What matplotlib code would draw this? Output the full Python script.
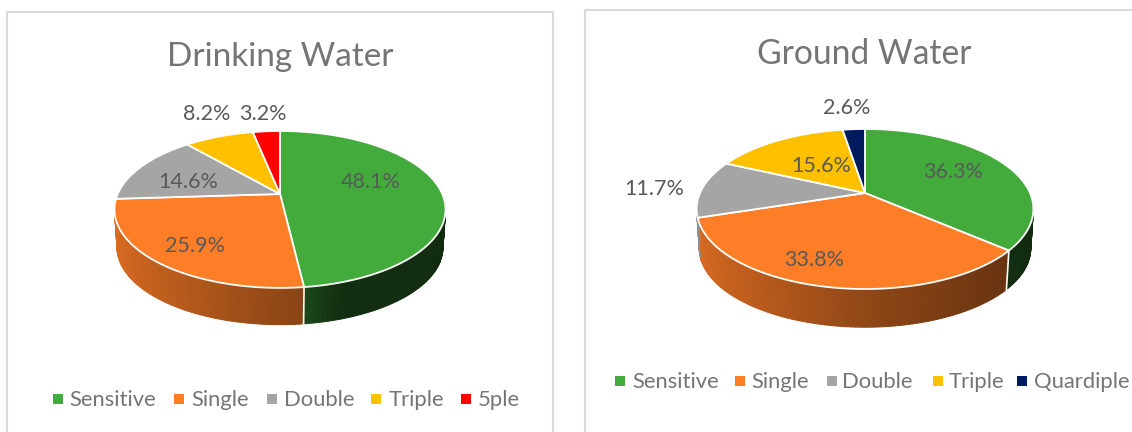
import numpy as np
import matplotlib
matplotlib.use('Agg')
import matplotlib.pyplot as plt
from matplotlib.colors import to_rgb

# Values
drinking_labels = ['Sensitive', 'Single', 'Double', 'Triple', '5ple']
drinking_values = [48.1, 25.9, 14.6, 8.2, 3.2]
ground_labels = ['Sensitive', 'Single', 'Double', 'Triple', 'Quardiple']
ground_values = [36.3, 33.8, 11.7, 15.6, 2.6]

drinking_colors = ['#43AB3C', '#FE7D27', '#A5A5A5', '#FFC000', '#FF0000']
ground_colors = ['#43AB3C', '#FE7D27', '#A5A5A5', '#FFC000', '#001A5E']

# Screen layout, in pixels of the output picture
drinking_text_xy = [(371, 182.5), (195, 245.5), (188, 182.5), (207, 113.5), (263, 113.5)]
ground_text_xy = [(953, 172.5), (814, 260), (654, 189), (821, 166), (847, 108.5)]
drinking_legend_x = [(57.5, 69), (179, 191), (272, 284), (376, 389), (466, 478)]
ground_legend_x = [(620, 632), (740, 751), (832, 842), (938, 949), (1022, 1034)]

TEXT_GREY = '#595959'
SOFT_GREY = '#757575'
FRAME_GREY = '#DADADA'

plt.rcParams['font.family'] = ['Lato', 'DejaVu Sans']


def project(theta, geom, radius=1.0, drop=0.0):
    # theta runs clockwise from 12 o'clock; a small perspective squeezes the far side
    u = radius * np.sin(theta)
    v = radius * np.cos(theta)
    s = 1.0 / (1.0 + geom['k'] * v)
    x = geom['cx'] + geom['rx'] * u * s
    y = geom['cy'] - geom['ry'] * v * s + drop
    return x, y


def wall_shade(i, u):
    if i == 0:
        return np.interp(u, [0.1, 0.3, 1.0], [0.44, 0.27, 0.25])
    return np.interp(u, [-1.0, 0.1, 0.8], [0.86, 0.54, 0.40])


def draw_pie(ax, values, colors, geom):
    fractions = np.array(values) / 100.0
    edges = np.concatenate([[0], np.cumsum(fractions)]) * 2 * np.pi
    depth = geom['depth']

    # Front wall, cut into thin strips to get the shading
    for i in range(len(values)):
        lo = max(edges[i], np.pi / 2 + 0.1 if i == 0 else 0)
        hi = min(edges[i + 1], 3 * np.pi / 2 - 0.1)
        if hi <= lo:
            continue
        steps = np.linspace(lo, hi, int((hi - lo) * 45) + 2)
        base = np.array(to_rgb(colors[i]))
        for a, b in zip(steps[:-1], steps[1:]):
            t = np.linspace(a, b, 4)
            x1, y1 = project(t, geom)
            x2, y2 = project(t[::-1], geom, radius=0.985, drop=depth)
            c = tuple(base * wall_shade(i, np.sin((a + b) / 2)))
            # the thin same-colour edge closes the seams between the strips
            ax.fill(np.r_[x1, x2], np.r_[y1, y2], facecolor=c, edgecolor=c, lw=0.7, zorder=2)

    # White seam where a slice boundary runs down the wall
    for e in edges[1:-1]:
        if np.cos(e) < -0.5:
            x1, y1 = project(e, geom)
            x2, y2 = project(e, geom, radius=0.985, drop=depth)
            ax.plot([x1, x2], [y1, y2], color='white', lw=1.2, zorder=3)

    # Top face
    for i in range(len(values)):
        t = np.linspace(edges[i], edges[i + 1], 120)
        x, y = project(t, geom)
        ax.fill(np.r_[geom['cx'], x], np.r_[geom['cy'], y], facecolor=colors[i],
                edgecolor='white', lw=1.3, joinstyle='round', zorder=4)


def draw_labels(ax, values, xy):
    for v, (x, y) in zip(values, xy):
        ax.text(x, y, f'{v:.1f}%', color=TEXT_GREY, fontsize=15.5,
                ha='center', va='center', zorder=6)


def draw_legend(ax, labels, colors, positions, y):
    for lab, c, (mx, tx) in zip(labels, colors, positions):
        ax.scatter([mx], [y], marker='s', s=42, color=c, lw=0, zorder=6)
        ax.text(tx, y + 0.5, lab, color=SOFT_GREY, fontsize=15.8,
                ha='left', va='center', zorder=6)


fig = plt.figure(figsize=(11.32, 4.32), dpi=100)
ax = fig.add_axes([0, 0, 1, 1])
ax.set_xlim(0, 1132)
ax.set_ylim(432, 0)
ax.axis('off')

# Chart frames, they run off the bottom of the picture
ax.plot([7, 7, 553, 553], [432, 12, 12, 432], color=FRAME_GREY, lw=1.5)
ax.plot([584.5, 584.5, 1132], [432, 10, 10], color=FRAME_GREY, lw=1.5)

drinking_geom = {'cx': 280, 'cy': 194, 'rx': 162.3, 'ry': 75.4, 'k': 0.197, 'depth': 38.5}
ground_geom = {'cx': 865, 'cy': 193, 'rx': 165, 'ry': 76.8, 'k': 0.2, 'depth': 40}

draw_pie(ax, drinking_values, drinking_colors, drinking_geom)
draw_pie(ax, ground_values, ground_colors, ground_geom)

ax.text(280.5, 57.5, 'Drinking Water', color=SOFT_GREY, fontsize=24, ha='center', va='center')
ax.text(864, 54.5, 'Ground Water', color=SOFT_GREY, fontsize=24.2, ha='center', va='center')

draw_labels(ax, drinking_values, drinking_text_xy)
draw_labels(ax, ground_values, ground_text_xy)
draw_legend(ax, drinking_labels, drinking_colors, drinking_legend_x, 399)
draw_legend(ax, ground_labels, ground_colors, ground_legend_x, 381)

plt.savefig('out.png', dpi=100)
plt.close()
